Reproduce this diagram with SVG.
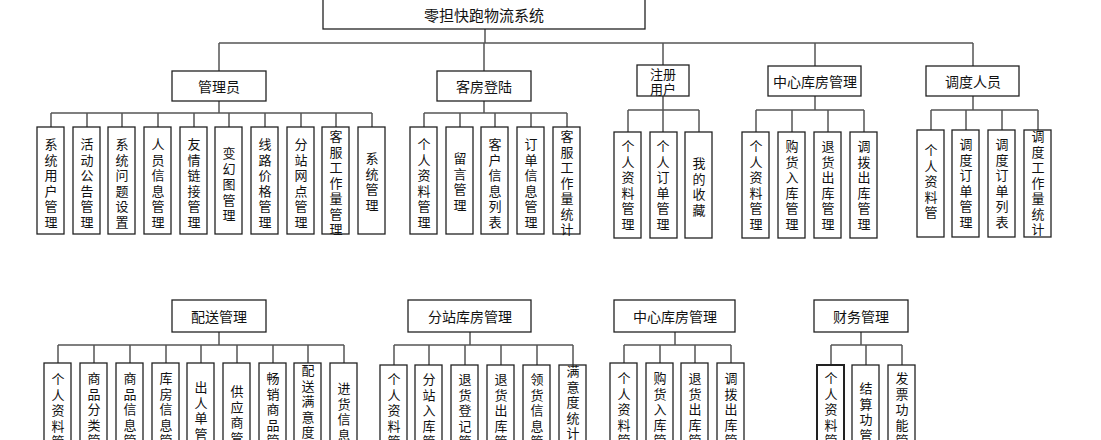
<svg xmlns="http://www.w3.org/2000/svg" width="1101" height="440" viewBox="0 0 1101 440">
<style>
rect{fill:#fff;stroke:#222;stroke-width:1.3}
.c path{fill:none;stroke:#555;stroke-width:1.5}
text{font-family:"Noto Sans CJK SC","Liberation Sans",sans-serif;font-size:14px;fill:#111;text-anchor:middle;dominant-baseline:central}
.v{font-size:13px}
</style>
<rect x="0" y="0" width="1101" height="440" style="fill:#fff;stroke:none"/>
<g class="c">
<path d="M485 29V43M219 43H973M219 43V71M484 43V71M663 43V65M815 43V71M973 43V71"/>
<path d="M219 101V113M51 113H372M51 113V127M87 113V127M122 113V127M158 113V127M194 113V127M229 113V127M265 113V127M301 113V127M336 113V127M372 113V127"/>
<path d="M484 101V113M424 113H567M424 113V127M460 113V127M495 113V127M531 113V127M567 113V127"/>
<path d="M663 96V110M628 110H699M628 110V132M663 110V132M699 110V132"/>
<path d="M815 96V110M756 110H864M756 110V132M792 110V132M828 110V132M864 110V132"/>
<path d="M973 96V110M931 110H1038M931 110V130M966 110V130M1002 110V130M1038 110V130"/>
<path d="M219 332V345M58 345H344M58 345V363M94 345V363M130 345V363M166 345V363M201 345V363M237 345V363M273 345V363M308 345V363M344 345V363"/>
<path d="M470 332V345M394 345H573M394 345V365M429 345V365M465 345V365M501 345V365M537 345V365M573 345V365"/>
<path d="M675 332V345M624 345H731M624 345V363M660 345V363M695 345V363M731 345V363"/>
<path d="M861 332V345M831 345H902M831 345V365M866 345V365M902 345V365"/>
</g>
<g id="root"><rect x="323" y="-5" width="322" height="34"/><text x="484" y="14" style="font-size:15px">零担快跑物流系统</text></g>
<g id="admin"><rect x="172" y="71" width="94" height="30"/><text x="219" y="86">管理员</text></g>
<g id="guest"><rect x="437" y="71" width="94" height="30"/><text x="484" y="86">客房登陆</text></g>
<g id="reg"><rect x="637" y="65" width="52" height="31"/><text x="663" y="73" style="font-size:13px">注册</text><text x="663" y="88" style="font-size:13px">用户</text></g>
<g id="center"><rect x="768" y="66" width="93" height="30"/><text x="815" y="81">中心库房管理</text></g>
<g id="disp"><rect x="926" y="66" width="93" height="30"/><text x="973" y="81">调度人员</text></g>
<g id="deliver"><rect x="172" y="300" width="94" height="32"/><text x="219" y="316">配送管理</text></g>
<g id="sub"><rect x="408" y="300" width="123" height="32"/><text x="470" y="316">分站库房管理</text></g>
<g id="center2"><rect x="614" y="300" width="121" height="32"/><text x="675" y="316">中心库房管理</text></g>
<g id="fin"><rect x="814" y="300" width="94" height="32"/><text x="861" y="316">财务管理</text></g>

<g id="a1"><rect x="37" y="127" width="27" height="107"/><text class="v" x="51" y="143"><tspan x="51">系</tspan><tspan x="51" dy="15.5">统</tspan><tspan x="51" dy="15.5">用</tspan><tspan x="51" dy="15.5">户</tspan><tspan x="51" dy="15.5">管</tspan><tspan x="51" dy="15.5">理</tspan></text></g>
<g id="a2"><rect x="73" y="127" width="27" height="107"/><text class="v" x="87" y="143"><tspan x="87">活</tspan><tspan x="87" dy="15.5">动</tspan><tspan x="87" dy="15.5">公</tspan><tspan x="87" dy="15.5">告</tspan><tspan x="87" dy="15.5">管</tspan><tspan x="87" dy="15.5">理</tspan></text></g>
<g id="a3"><rect x="108" y="127" width="27" height="107"/><text class="v" x="122" y="143"><tspan x="122">系</tspan><tspan x="122" dy="15.5">统</tspan><tspan x="122" dy="15.5">问</tspan><tspan x="122" dy="15.5">题</tspan><tspan x="122" dy="15.5">设</tspan><tspan x="122" dy="15.5">置</tspan></text></g>
<g id="a4"><rect x="144" y="127" width="27" height="107"/><text class="v" x="158" y="143"><tspan x="158">人</tspan><tspan x="158" dy="15.5">员</tspan><tspan x="158" dy="15.5">信</tspan><tspan x="158" dy="15.5">息</tspan><tspan x="158" dy="15.5">管</tspan><tspan x="158" dy="15.5">理</tspan></text></g>
<g id="a5"><rect x="180" y="127" width="27" height="107"/><text class="v" x="194" y="143"><tspan x="194">友</tspan><tspan x="194" dy="15.5">情</tspan><tspan x="194" dy="15.5">链</tspan><tspan x="194" dy="15.5">接</tspan><tspan x="194" dy="15.5">管</tspan><tspan x="194" dy="15.5">理</tspan></text></g>
<g id="a6"><rect x="215" y="127" width="27" height="107"/><text class="v" x="229" y="152"><tspan x="229">变</tspan><tspan x="229" dy="15.5">幻</tspan><tspan x="229" dy="15.5">图</tspan><tspan x="229" dy="15.5">管</tspan><tspan x="229" dy="15.5">理</tspan></text></g>
<g id="a7"><rect x="251" y="127" width="27" height="107"/><text class="v" x="265" y="143"><tspan x="265">线</tspan><tspan x="265" dy="15.5">路</tspan><tspan x="265" dy="15.5">价</tspan><tspan x="265" dy="15.5">格</tspan><tspan x="265" dy="15.5">管</tspan><tspan x="265" dy="15.5">理</tspan></text></g>
<g id="a8"><rect x="287" y="127" width="27" height="107"/><text class="v" x="301" y="143"><tspan x="301">分</tspan><tspan x="301" dy="15.5">站</tspan><tspan x="301" dy="15.5">网</tspan><tspan x="301" dy="15.5">点</tspan><tspan x="301" dy="15.5">管</tspan><tspan x="301" dy="15.5">理</tspan></text></g>
<g id="a9"><rect x="322" y="127" width="27" height="107"/><text class="v" x="336" y="135"><tspan x="336">客</tspan><tspan x="336" dy="15.5">服</tspan><tspan x="336" dy="15.5">工</tspan><tspan x="336" dy="15.5">作</tspan><tspan x="336" dy="15.5">量</tspan><tspan x="336" dy="15.5">管</tspan><tspan x="336" dy="15.5">理</tspan></text></g>
<g id="a10"><rect x="358" y="127" width="27" height="107"/><text class="v" x="372" y="157"><tspan x="372">系</tspan><tspan x="372" dy="15.5">统</tspan><tspan x="372" dy="15.5">管</tspan><tspan x="372" dy="15.5">理</tspan></text></g>

<g id="g1"><rect x="410" y="127" width="27" height="107"/><text class="v" x="424" y="143"><tspan x="424">个</tspan><tspan x="424" dy="15.5">人</tspan><tspan x="424" dy="15.5">资</tspan><tspan x="424" dy="15.5">料</tspan><tspan x="424" dy="15.5">管</tspan><tspan x="424" dy="15.5">理</tspan></text></g>
<g id="g2"><rect x="446" y="127" width="27" height="107"/><text class="v" x="460" y="157"><tspan x="460">留</tspan><tspan x="460" dy="15.5">言</tspan><tspan x="460" dy="15.5">管</tspan><tspan x="460" dy="15.5">理</tspan></text></g>
<g id="g3"><rect x="481" y="127" width="27" height="107"/><text class="v" x="495" y="143"><tspan x="495">客</tspan><tspan x="495" dy="15.5">户</tspan><tspan x="495" dy="15.5">信</tspan><tspan x="495" dy="15.5">息</tspan><tspan x="495" dy="15.5">列</tspan><tspan x="495" dy="15.5">表</tspan></text></g>
<g id="g4"><rect x="517" y="127" width="27" height="107"/><text class="v" x="531" y="143"><tspan x="531">订</tspan><tspan x="531" dy="15.5">单</tspan><tspan x="531" dy="15.5">信</tspan><tspan x="531" dy="15.5">息</tspan><tspan x="531" dy="15.5">管</tspan><tspan x="531" dy="15.5">理</tspan></text></g>
<g id="g5"><rect x="553" y="127" width="27" height="107"/><text class="v" x="567" y="135"><tspan x="567">客</tspan><tspan x="567" dy="15.5">服</tspan><tspan x="567" dy="15.5">工</tspan><tspan x="567" dy="15.5">作</tspan><tspan x="567" dy="15.5">量</tspan><tspan x="567" dy="15.5">统</tspan><tspan x="567" dy="15.5">计</tspan></text></g>

<g id="r1"><rect x="614" y="132" width="27" height="106"/><text class="v" x="628" y="145"><tspan x="628">个</tspan><tspan x="628" dy="15.5">人</tspan><tspan x="628" dy="15.5">资</tspan><tspan x="628" dy="15.5">料</tspan><tspan x="628" dy="15.5">管</tspan><tspan x="628" dy="15.5">理</tspan></text></g>
<g id="r2"><rect x="650" y="132" width="27" height="106"/><text class="v" x="663" y="145"><tspan x="663">个</tspan><tspan x="663" dy="15.5">人</tspan><tspan x="663" dy="15.5">订</tspan><tspan x="663" dy="15.5">单</tspan><tspan x="663" dy="15.5">管</tspan><tspan x="663" dy="15.5">理</tspan></text></g>
<g id="r3"><rect x="685" y="132" width="27" height="106"/><text class="v" x="699" y="162"><tspan x="699">我</tspan><tspan x="699" dy="15.5">的</tspan><tspan x="699" dy="15.5">收</tspan><tspan x="699" dy="15.5">藏</tspan></text></g>

<g id="c1"><rect x="742" y="132" width="27" height="106"/><text class="v" x="756" y="145"><tspan x="756">个</tspan><tspan x="756" dy="15.5">人</tspan><tspan x="756" dy="15.5">资</tspan><tspan x="756" dy="15.5">料</tspan><tspan x="756" dy="15.5">管</tspan><tspan x="756" dy="15.5">理</tspan></text></g>
<g id="c2"><rect x="778" y="132" width="27" height="106"/><text class="v" x="792" y="145"><tspan x="792">购</tspan><tspan x="792" dy="15.5">货</tspan><tspan x="792" dy="15.5">入</tspan><tspan x="792" dy="15.5">库</tspan><tspan x="792" dy="15.5">管</tspan><tspan x="792" dy="15.5">理</tspan></text></g>
<g id="c3"><rect x="814" y="132" width="27" height="106"/><text class="v" x="828" y="145"><tspan x="828">退</tspan><tspan x="828" dy="15.5">货</tspan><tspan x="828" dy="15.5">出</tspan><tspan x="828" dy="15.5">库</tspan><tspan x="828" dy="15.5">管</tspan><tspan x="828" dy="15.5">理</tspan></text></g>
<g id="c4"><rect x="850" y="132" width="27" height="106"/><text class="v" x="864" y="145"><tspan x="864">调</tspan><tspan x="864" dy="15.5">拨</tspan><tspan x="864" dy="15.5">出</tspan><tspan x="864" dy="15.5">库</tspan><tspan x="864" dy="15.5">管</tspan><tspan x="864" dy="15.5">理</tspan></text></g>

<g id="d1"><rect x="917" y="130" width="27" height="107"/><text class="v" x="931" y="149"><tspan x="931">个</tspan><tspan x="931" dy="15.5">人</tspan><tspan x="931" dy="15.5">资</tspan><tspan x="931" dy="15.5">料</tspan><tspan x="931" dy="15.5">管</tspan></text></g>
<g id="d2"><rect x="952" y="130" width="27" height="107"/><text class="v" x="966" y="143"><tspan x="966">调</tspan><tspan x="966" dy="15.5">度</tspan><tspan x="966" dy="15.5">订</tspan><tspan x="966" dy="15.5">单</tspan><tspan x="966" dy="15.5">管</tspan><tspan x="966" dy="15.5">理</tspan></text></g>
<g id="d3"><rect x="988" y="130" width="27" height="107"/><text class="v" x="1002" y="143"><tspan x="1002">调</tspan><tspan x="1002" dy="15.5">度</tspan><tspan x="1002" dy="15.5">订</tspan><tspan x="1002" dy="15.5">单</tspan><tspan x="1002" dy="15.5">列</tspan><tspan x="1002" dy="15.5">表</tspan></text></g>
<g id="d4"><rect x="1024" y="130" width="27" height="107"/><text class="v" x="1038" y="135"><tspan x="1038">调</tspan><tspan x="1038" dy="15.5">度</tspan><tspan x="1038" dy="15.5">工</tspan><tspan x="1038" dy="15.5">作</tspan><tspan x="1038" dy="15.5">量</tspan><tspan x="1038" dy="15.5">统</tspan><tspan x="1038" dy="15.5">计</tspan></text></g>

<g id="p1"><rect x="44" y="363" width="27" height="100"/><text class="v" x="58" y="378"><tspan x="58">个</tspan><tspan x="58" dy="15.5">人</tspan><tspan x="58" dy="15.5">资</tspan><tspan x="58" dy="15.5">料</tspan><tspan x="58" dy="15.5">管</tspan></text></g>
<g id="p2"><rect x="80" y="363" width="27" height="100"/><text class="v" x="94" y="377"><tspan x="94">商</tspan><tspan x="94" dy="15.5">品</tspan><tspan x="94" dy="15.5">分</tspan><tspan x="94" dy="15.5">类</tspan><tspan x="94" dy="15.5">管</tspan></text></g>
<g id="p3"><rect x="116" y="363" width="27" height="100"/><text class="v" x="130" y="377"><tspan x="130">商</tspan><tspan x="130" dy="15.5">品</tspan><tspan x="130" dy="15.5">信</tspan><tspan x="130" dy="15.5">息</tspan><tspan x="130" dy="15.5">管</tspan></text></g>
<g id="p4"><rect x="152" y="363" width="27" height="100"/><text class="v" x="166" y="377"><tspan x="166">库</tspan><tspan x="166" dy="15.5">房</tspan><tspan x="166" dy="15.5">信</tspan><tspan x="166" dy="15.5">息</tspan><tspan x="166" dy="15.5">管</tspan></text></g>
<g id="p5"><rect x="187" y="363" width="27" height="100"/><text class="v" x="201" y="386"><tspan x="201">出</tspan><tspan x="201" dy="15.5">人</tspan><tspan x="201" dy="15.5">单</tspan><tspan x="201" dy="15.5">管</tspan></text></g>
<g id="p6"><rect x="223" y="363" width="27" height="100"/><text class="v" x="237" y="390"><tspan x="237">供</tspan><tspan x="237" dy="15.5">应</tspan><tspan x="237" dy="15.5">商</tspan><tspan x="237" dy="15.5">管</tspan></text></g>
<g id="p7"><rect x="259" y="363" width="27" height="100"/><text class="v" x="273" y="377"><tspan x="273">畅</tspan><tspan x="273" dy="15.5">销</tspan><tspan x="273" dy="15.5">商</tspan><tspan x="273" dy="15.5">品</tspan><tspan x="273" dy="15.5">管</tspan></text></g>
<g id="p8"><rect x="294" y="363" width="27" height="100"/><text class="v" x="308" y="369"><tspan x="308">配</tspan><tspan x="308" dy="15.5">送</tspan><tspan x="308" dy="15.5">满</tspan><tspan x="308" dy="15.5">意</tspan><tspan x="308" dy="15.5">度</tspan></text></g>
<g id="p9"><rect x="330" y="363" width="27" height="100"/><text class="v" x="344" y="387"><tspan x="344">进</tspan><tspan x="344" dy="15.5">货</tspan><tspan x="344" dy="15.5">信</tspan><tspan x="344" dy="15.5">息</tspan></text></g>

<g id="s1"><rect x="380" y="365" width="27" height="100"/><text class="v" x="394" y="378"><tspan x="394">个</tspan><tspan x="394" dy="15.5">人</tspan><tspan x="394" dy="15.5">资</tspan><tspan x="394" dy="15.5">料</tspan><tspan x="394" dy="15.5">管</tspan></text></g>
<g id="s2"><rect x="415" y="365" width="27" height="100"/><text class="v" x="429" y="378"><tspan x="429">分</tspan><tspan x="429" dy="15.5">站</tspan><tspan x="429" dy="15.5">入</tspan><tspan x="429" dy="15.5">库</tspan><tspan x="429" dy="15.5">管</tspan></text></g>
<g id="s3"><rect x="451" y="365" width="27" height="100"/><text class="v" x="465" y="378"><tspan x="465">退</tspan><tspan x="465" dy="15.5">货</tspan><tspan x="465" dy="15.5">登</tspan><tspan x="465" dy="15.5">记</tspan><tspan x="465" dy="15.5">管</tspan></text></g>
<g id="s4"><rect x="487" y="365" width="27" height="100"/><text class="v" x="501" y="378"><tspan x="501">退</tspan><tspan x="501" dy="15.5">货</tspan><tspan x="501" dy="15.5">出</tspan><tspan x="501" dy="15.5">库</tspan><tspan x="501" dy="15.5">管</tspan></text></g>
<g id="s5"><rect x="523" y="365" width="27" height="100"/><text class="v" x="537" y="378"><tspan x="537">领</tspan><tspan x="537" dy="15.5">货</tspan><tspan x="537" dy="15.5">信</tspan><tspan x="537" dy="15.5">息</tspan><tspan x="537" dy="15.5">管</tspan></text></g>
<g id="s6"><rect x="559" y="365" width="27" height="100"/><text class="v" x="573" y="370"><tspan x="573">满</tspan><tspan x="573" dy="15.5">意</tspan><tspan x="573" dy="15.5">度</tspan><tspan x="573" dy="15.5">统</tspan><tspan x="573" dy="15.5">计</tspan></text></g>

<g id="m1"><rect x="610" y="363" width="27" height="100"/><text class="v" x="624" y="377"><tspan x="624">个</tspan><tspan x="624" dy="15.5">人</tspan><tspan x="624" dy="15.5">资</tspan><tspan x="624" dy="15.5">料</tspan><tspan x="624" dy="15.5">管</tspan></text></g>
<g id="m2"><rect x="646" y="363" width="27" height="100"/><text class="v" x="660" y="377"><tspan x="660">购</tspan><tspan x="660" dy="15.5">货</tspan><tspan x="660" dy="15.5">入</tspan><tspan x="660" dy="15.5">库</tspan><tspan x="660" dy="15.5">管</tspan></text></g>
<g id="m3"><rect x="681" y="363" width="27" height="100"/><text class="v" x="695" y="377"><tspan x="695">退</tspan><tspan x="695" dy="15.5">货</tspan><tspan x="695" dy="15.5">出</tspan><tspan x="695" dy="15.5">库</tspan><tspan x="695" dy="15.5">管</tspan></text></g>
<g id="m4"><rect x="717" y="363" width="27" height="100"/><text class="v" x="731" y="377"><tspan x="731">调</tspan><tspan x="731" dy="15.5">拨</tspan><tspan x="731" dy="15.5">出</tspan><tspan x="731" dy="15.5">库</tspan><tspan x="731" dy="15.5">管</tspan></text></g>

<g id="f1"><rect x="817" y="365" width="27" height="100" style="stroke-width:2"/><text class="v" x="831" y="377"><tspan x="831">个</tspan><tspan x="831" dy="15.5">人</tspan><tspan x="831" dy="15.5">资</tspan><tspan x="831" dy="15.5">料</tspan><tspan x="831" dy="15.5">管</tspan></text></g>
<g id="f2"><rect x="852" y="365" width="27" height="100"/><text class="v" x="866" y="387"><tspan x="866">结</tspan><tspan x="866" dy="15.5">算</tspan><tspan x="866" dy="15.5">功</tspan><tspan x="866" dy="15.5">管</tspan></text></g>
<g id="f3"><rect x="888" y="365" width="27" height="100"/><text class="v" x="902" y="377"><tspan x="902">发</tspan><tspan x="902" dy="15.5">票</tspan><tspan x="902" dy="15.5">功</tspan><tspan x="902" dy="15.5">能</tspan><tspan x="902" dy="15.5">管</tspan></text></g>
</svg>
